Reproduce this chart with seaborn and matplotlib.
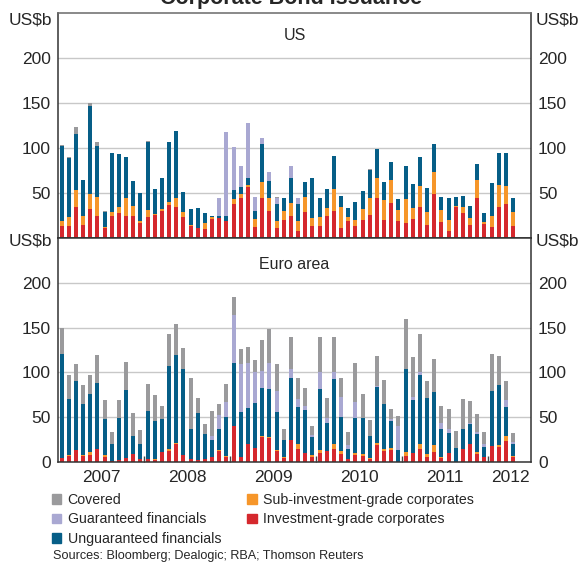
import numpy as np
import pandas as pd
import seaborn as sns
import matplotlib.pyplot as plt
from matplotlib.patches import Patch

# monthly data, Jan 2007 - Apr 2012 (US$b)
months = pd.date_range('2007-01-01', periods=64, freq='MS').strftime('%Y-%m').tolist()

# US
us_ig = [13, 13, 35, 15, 32, 25, 11, 25, 28, 25, 25, 17, 23, 26, 30, 37, 34, 23, 13, 11, 10, 21, 22, 19,
         38, 45, 57, 12, 45, 30, 11, 20, 25, 8, 29, 13, 13, 24, 30, 11, 19, 13, 20, 26, 44, 20, 39, 19,
         17, 21, 35, 15, 49, 18, 8, 35, 28, 15, 45, 16, 12, 34, 38, 13]
us_sub = [6, 10, 18, 10, 17, 21, 1, 4, 6, 19, 11, 2, 8, 1, 2, 3, 11, 6, 2, 0, 7, 2, 0, 0,
          5, 4, 2, 9, 17, 15, 8, 10, 14, 11, 17, 9, 10, 9, 24, 24, 4, 7, 12, 18, 23, 22, 26, 12,
          26, 12, 23, 14, 24, 13, 12, 1, 6, 7, 20, 2, 12, 25, 20, 16]
us_ung = [83, 66, 63, 39, 98, 56, 17, 65, 59, 46, 27, 31, 76, 27, 35, 67, 74, 22, 17, 22, 11, 2, 2, 6,
          10, 8, 8, 9, 42, 18, 19, 15, 28, 19, 16, 45, 21, 21, 37, 12, 10, 20, 20, 32, 32, 20, 20, 12,
          37, 27, 32, 27, 32, 15, 25, 10, 13, 14, 17, 10, 37, 36, 37, 15]
us_guar = [0, 0, 0, 0, 0, 0, 0, 0, 0, 0, 0, 0, 0, 0, 0, 0, 0, 0, 0, 0, 0, 0, 21, 93,
           48, 23, 61, 16, 7, 10, 7, 0, 13, 6, 0, 0, 0, 0, 0, 0, 0, 0, 0, 0, 0, 0, 0, 0,
           0, 0, 0, 0, 0, 0, 0, 0, 0, 0, 0, 0, 0, 0, 0, 0]
us_cov = [1, 1, 7, 0, 3, 5, 1, 0, 0, 0, 0, 0, 1, 0, 0, 0, 0, 0, 0, 0, 0, 0, 0, 0,
          0, 0, 0, 0, 0, 0, 1, 0, 0, 0, 0, 0, 0, 0, 0, 0, 0, 0, 0, 1, 0, 0, 0, 0,
          0, 0, 0, 0, 0, 0, 0, 0, 0, 0, 0, 0, 0, 0, 0, 0]

# Euro area
eu_ig = [4, 7, 13, 7, 8, 14, 6, 1, 2, 4, 9, 3, 3, 2, 11, 12, 20, 8, 3, 2, 3, 6, 12, 6,
         40, 6, 20, 16, 28, 27, 12, 4, 24, 14, 10, 6, 10, 12, 14, 9, 3, 8, 7, 3, 19, 12, 13, 0,
         7, 10, 14, 6, 11, 4, 10, 0, 14, 20, 9, 6, 18, 17, 23, 6]
eu_sub = [1, 1, 0.5, 1, 3, 1, 2, 0, 0, 0, 0, 0, 0, 1, 0, 2, 1, 0, 0, 0, 0, 0, 1, 1,
          0, 0, 0, 0, 1, 1, 1, 2, 1, 6, 0, 2, 3, 0, 6, 3, 0, 2, 2, 1, 2, 2, 3, 0,
          4, 0, 6, 3, 8, 2, 0, 0, 0, 0, 2, 0, 0, 2, 6, 1]
eu_ung = [115, 62, 77, 57, 65, 73, 40, 19, 47, 76, 20, 17, 54, 43, 37, 93, 98, 96, 34, 53, 28, 19, 24, 43,
          70, 50, 40, 50, 54, 54, 43, 18, 69, 41, 48, 20, 68, 32, 73, 38, 11, 39, 40, 25, 63, 51, 30, 13,
          93, 59, 77, 62, 59, 31, 22, 16, 23, 22, 20, 11, 61, 67, 32, 13]
eu_guar = [0, 0, 0, 0, 0, 0, 0, 0, 0, 0, 0, 0, 0, 0, 0, 0, 0, 0, 0, 0, 0, 4, 15, 17,
           54, 53, 50, 35, 19, 29, 23, 0, 10, 9, 4, 2, 19, 5, 8, 22, 5, 18, 0, 0, 1, 0, 2, 27,
           0, 4, 3, 0, 0, 6, 5, 0, 0, 2, 2, 3, 0, 0, 8, 2]
eu_cov = [30, 27, 19, 21, 21, 31, 21, 14, 20, 32, 26, 16, 30, 29, 15, 36, 35, 23, 57, 16, 11, 28, 13, 20,
          20, 17, 18, 13, 34, 37, 30, 13, 36, 24, 21, 10, 39, 22, 39, 22, 14, 43, 27, 18, 33, 26, 11, 11,
          56, 44, 43, 19, 37, 20, 22, 19, 33, 24, 21, 14, 41, 32, 21, 10]

year_labels = ['2007', '2008', '2009', '2010', '2011', '2012']

series_names = ['Investment-grade corporates', 'Sub-investment-grade corporates',
                'Unguaranteed financials', 'Guaranteed financials', 'Covered']
colors = ['#d5282d', '#f6962a', '#065e87', '#a9a8d2', '#9a9a9c']

sns.set_style('white')
plt.rcParams['font.family'] = ['Liberation Sans', 'DejaVu Sans']

W, H = 582, 562
fig = plt.figure(figsize=(W / 100, H / 100), dpi=100)


def px_box(x0, y0, x1, y1):
    return [x0 / W, 1 - y1 / H, (x1 - x0) / W, (y1 - y0) / H]


ax_us = fig.add_axes(px_box(58, 13, 531, 238))
ax_eu = fig.add_axes(px_box(58, 238, 531, 462))


def stacked(ax, layers, title, title_y, yticks):
    cum = np.cumsum(np.array(layers, dtype=float), axis=0)
    # draw totals first, then overlay the lower cumulative layers
    for k in range(len(layers) - 1, -1, -1):
        df = pd.DataFrame({'month': months, 'value': cum[k]})
        sns.barplot(data=df, x='month', y='value', order=months, color=colors[k],
                    saturation=1, width=0.58, errorbar=None, linewidth=0, ax=ax)
    ax.set_xlim(-0.5, 65.5)
    ax.set_ylim(0, 250)
    ax.set_xlabel('')
    ax.set_ylabel('')
    ax.set_yticks(yticks)
    ax.yaxis.grid(True, color='#c8c8c8', linewidth=1.0)
    ax.set_axisbelow(True)
    ax.tick_params(axis='y', length=0, labelsize=12.5, labelleft=True, labelright=True, pad=5)
    for s in ax.spines.values():
        s.set_color('#333333')
        s.set_linewidth(1.1)
    ax.text(0.5, title_y, title, transform=ax.transAxes, ha='center', va='center', fontsize=11.5)


stacked(ax_us, [us_ig, us_sub, us_ung, us_guar, us_cov], 'US', 0.902, [50, 100, 150, 200])
stacked(ax_eu, [eu_ig, eu_sub, eu_ung, eu_guar, eu_cov], 'Euro area', 0.88, [0, 50, 100, 150, 200])

ax_us.set_xticks([])
ax_us.spines['top'].set_color('#6a6a6a')
ax_us.spines['bottom'].set_color('#222222')

year_pos = [5.5, 17.5, 29.5, 41.5, 53.5, 62.7]
ax_eu.set_xticks(year_pos)
ax_eu.set_xticklabels(year_labels)
ax_eu.set_xticks([11.5, 23.5, 35.5, 47.5, 59.5], minor=True)
ax_eu.tick_params(axis='x', which='major', length=0, labelsize=12.5, pad=6)
ax_eu.tick_params(axis='x', which='minor', length=4, width=1, direction='in', color='#444444', bottom=True)

# unit labels
for y in (20, 241):
    fig.text(52 / W, 1 - y / H, 'US$b', ha='right', va='center', fontsize=12.5)
    fig.text(536 / W, 1 - y / H, 'US$b', ha='left', va='center', fontsize=12.5)

# title sits partly above the top edge, as in the source image
fig.text(0.5, 1 - 4 / H, 'Corporate Bond Issuance', ha='center', va='baseline',
         fontsize=15.5, fontweight='bold')

handles = [Patch(color=colors[4], label='Covered'),
           Patch(color=colors[3], label='Guaranteed financials'),
           Patch(color=colors[2], label='Unguaranteed financials'),
           Patch(color=colors[1], label='Sub-investment-grade corporates'),
           Patch(color=colors[0], label='Investment-grade corporates')]
fig.legend(handles=handles, loc='upper left', bbox_to_anchor=(52 / W, 1 - 493 / H), ncol=2,
           frameon=False, fontsize=10.2, handlelength=0.65, handleheight=0.65,
           handletextpad=0.45, columnspacing=1.85, labelspacing=0.38, borderpad=0,
           borderaxespad=0)

fig.text(53 / W, 1 - 556 / H, 'Sources: Bloomberg; Dealogic; RBA; Thomson Reuters',
         ha='left', va='center', fontsize=9.1)

fig.savefig('out.png', dpi=100)
